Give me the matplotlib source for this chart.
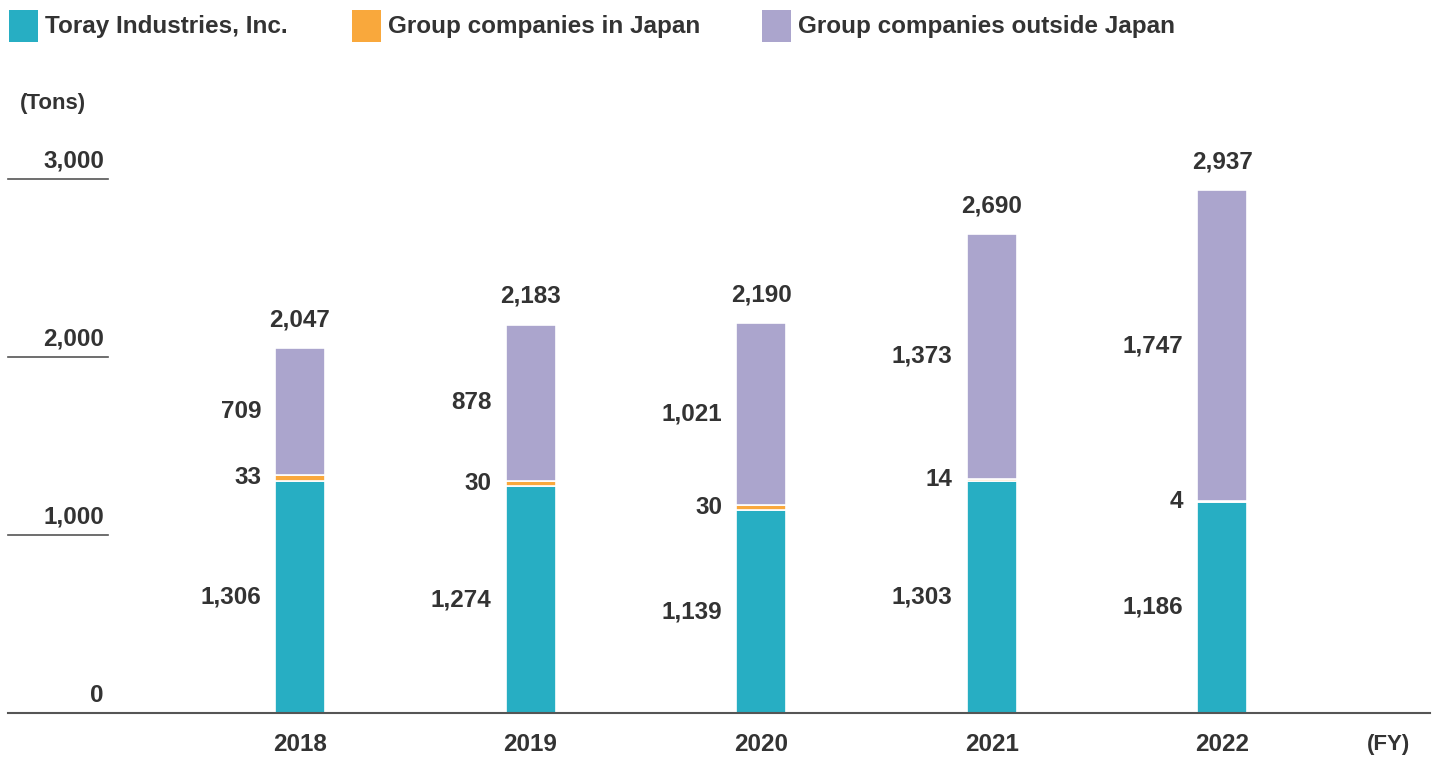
import numpy as np
import matplotlib.pyplot as plt
from matplotlib.patches import Rectangle

# data
years = ['2018', '2019', '2020', '2021', '2022']
toray = [1306, 1274, 1139, 1303, 1186]
japan = [33, 30, 30, 14, 4]
overseas = [709, 878, 1021, 1373, 1747]
totals = [2047, 2183, 2190, 2690, 2937]
series_names = ['Toray Industries, Inc.', 'Group companies in Japan', 'Group companies outside Japan']
colors = ['#27aec3', '#f9a83c', '#aba5cd']
y_ticks = [0, 1000, 2000, 3000]

txt = '#333333'
plt.rcParams['font.family'] = ['Liberation Sans', 'DejaVu Sans']

fig = plt.figure(figsize=(14.45, 7.62), dpi=100)
W, H = 1445, 762
# axes spans from pixel x 8..1430, baseline at y 713, 3000 at y 179
ax = fig.add_axes([8 / W, (H - 713) / H, (1430 - 8) / W, (713 - 179) / H])
ax.set_xlim(-1.267, 4.902)
ax.set_ylim(0, 3000)
ax.set_axis_off()

x = np.arange(len(years))
bw = 0.217
bottoms = np.zeros(len(years))
for vals, c in zip([toray, japan, overseas], colors):
    ax.bar(x, vals, bw, bottom=bottoms, color=c, edgecolor='white', linewidth=1.2, zorder=2)
    for xi, b, v in zip(x, bottoms, vals):
        ax.annotate(f'{v:,}', (xi - bw / 2, b + v / 2), xytext=(-10, 0), textcoords='offset points',
                    ha='right', va='center', fontsize=17.5, fontweight='bold', color=txt)
    bottoms += np.array(vals)

for xi, t in zip(x, totals):
    ax.annotate(f'{t:,}', (xi, t), xytext=(0, 12), textcoords='offset points',
                ha='center', va='bottom', fontsize=17.5, fontweight='bold', color=txt)

# baseline
ax.plot([-1.267, 4.902], [0, 0], color='#555555', linewidth=1.5, clip_on=False, zorder=3)

# y tick labels with short rules
for t in y_ticks:
    if t > 0:
        ax.plot([-1.267, -0.833], [t, t], color='#555555', linewidth=1.2, clip_on=False)
    ax.annotate(f'{t:,}', (-0.833, t), xytext=(-3, 8), textcoords='offset points',
                ha='right', va='baseline', fontsize=17.5, fontweight='bold', color=txt)

for xi, yr in zip(x, years):
    ax.annotate(yr, (xi, 0), xytext=(0, -23), textcoords='offset points',
                ha='center', va='center', fontsize=17.5, fontweight='bold', color=txt)
ax.annotate('(FY)', (4.72, 0), xytext=(0, -23), textcoords='offset points',
            ha='center', va='center', fontsize=16, fontweight='bold', color=txt)

fig.text(20 / W, 1 - 103 / H, '(Tons)', ha='left', va='center', fontsize=16,
         fontweight='bold', color=txt)

# legend drawn by hand along the top
legend_x = [9, 352, 762]
for lx, name, c in zip(legend_x, series_names, colors):
    fig.patches.append(Rectangle((lx / W, 1 - 42 / H), 29 / W, 32 / H, transform=fig.transFigure,
                                 facecolor=c, edgecolor='none'))
    fig.text((lx + 36) / W, 1 - 26 / H, name, ha='left', va='center', fontsize=17.5,
             fontweight='bold', color=txt)

fig.savefig('out.png', dpi=100, facecolor='white')
